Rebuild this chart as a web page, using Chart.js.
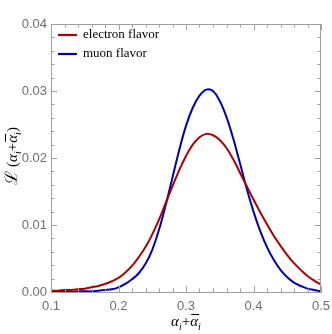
<!DOCTYPE html>
<html>
<head>
<meta charset="utf-8">
<script src="https://cdn.jsdelivr.net/npm/chart.js@4/dist/chart.umd.min.js"></script>
<style>
  html, body { margin: 0; padding: 0; background: #fff; }
  #wrap { width: 332px; height: 334px; }
</style>
</head>
<body>
<div id="wrap"><canvas id="c" width="332" height="334"></canvas></div>
<script>
// x positions (alpha_i + alphabar_i)
const xs = [0.10, 0.11, 0.12, 0.13, 0.14, 0.15, 0.16, 0.17, 0.18, 0.19,
            0.20, 0.21, 0.22, 0.23, 0.24, 0.25, 0.26, 0.27, 0.28, 0.29,
            0.30, 0.31, 0.32, 0.33, 0.34, 0.35, 0.36, 0.37, 0.38, 0.39,
            0.40, 0.41, 0.42, 0.43, 0.44, 0.45, 0.46, 0.47, 0.48, 0.49, 0.50];

const electron = [0.0002, 0.0002, 0.0003, 0.0003, 0.0004, 0.0005, 0.0007, 0.0009, 0.0012, 0.0016,
                  0.0021, 0.0029, 0.0039, 0.0052, 0.0067, 0.0086, 0.0108, 0.0133, 0.0158, 0.0182,
                  0.0203, 0.0220, 0.0231, 0.0236, 0.0234, 0.0227, 0.0215, 0.0198, 0.0178, 0.0158,
                  0.0138, 0.0119, 0.0101, 0.0084, 0.0069, 0.0055, 0.0043, 0.0033, 0.0024, 0.0017, 0.0011];
const muon = [0.0000, 0.0000, 0.0000, 0.0000, 0.0001, 0.0001, 0.0001, 0.0002, 0.0003, 0.0004,
              0.0007, 0.0012, 0.0019, 0.0028, 0.0042, 0.0063, 0.0093, 0.0130, 0.0171, 0.0212,
              0.0248, 0.0275, 0.0293, 0.0302, 0.0300, 0.0285, 0.0261, 0.0229, 0.0192, 0.0154,
              0.0120, 0.0091, 0.0067, 0.0048, 0.0033, 0.0022, 0.0014, 0.0009, 0.0005, 0.0003, 0.0001];

const seriesLabels = ['electron flavor', 'muon flavor'];
const seriesColors = ['#aa0000', '#0000b4'];

const xTicks = [0.1, 0.2, 0.3, 0.4, 0.5];
const yTicks = [0.00, 0.01, 0.02, 0.03, 0.04];

const frameColor = '#a0a0a0';
const labelColor = '#6e6e6e';
const serif = '"Liberation Serif", "Times New Roman", serif';

function pts(ys) {
    return xs.map((x, i) => ({ x, y: ys[i] }));
}

// draw a run of text pieces starting at x, returns total width
function drawRuns(ctx, parts, x, y, measureOnly) {
    let w = 0;
    parts.forEach(p => {
        ctx.font = p.f;
        const pw = ctx.measureText(p.t).width;
        if (!measureOnly) {
            ctx.fillText(p.t, x + w, y + (p.dy || 0));
            if (p.bar) {
                ctx.beginPath();
                ctx.moveTo(x + w + 1, y - 11.5);
                ctx.lineTo(x + w + pw + 1, y - 11.5);
                ctx.stroke();
            }
        }
        w += pw + (p.gap || 0);
    });
    return w;
}

const exprParts = [
    { t: 'α', f: 'italic 15px ' + serif },
    { t: 'i', f: 'italic 10px ' + serif, dy: 4 },
    { t: '+', f: '15px ' + serif },
    { t: 'α', f: 'italic 15px ' + serif, bar: true },
    { t: 'i', f: 'italic 10px ' + serif, dy: 4 }
];

// Frame ticks pointing inward on all four sides, plus top/right frame lines
const frameTicks = {
    id: 'frameTicks',
    afterDraw(chart) {
        const { ctx, chartArea: a, scales } = chart;
        ctx.save();
        ctx.strokeStyle = frameColor;
        ctx.lineWidth = 1;
        ctx.beginPath();
        ctx.moveTo(a.left, a.top + 0.5);
        ctx.lineTo(a.right, a.top + 0.5);
        ctx.moveTo(a.right - 0.5, a.top);
        ctx.lineTo(a.right - 0.5, a.bottom);
        // x ticks every 0.02, major every 0.1
        for (let k = 0; k <= 20; k++) {
            const v = 0.1 + k * 0.02;
            const px = Math.round(scales.x.getPixelForValue(v)) + 0.5;
            const len = (k % 5 === 0) ? 6 : 3.5;
            ctx.moveTo(px, a.bottom);
            ctx.lineTo(px, a.bottom - len);
            ctx.moveTo(px, a.top);
            ctx.lineTo(px, a.top + len);
        }
        // y ticks every 0.002, major every 0.01
        for (let k = 0; k <= 20; k++) {
            const v = k * 0.002;
            const py = Math.round(scales.y.getPixelForValue(v)) + 0.5;
            const len = (k % 5 === 0) ? 6 : 3.5;
            ctx.moveTo(a.left, py);
            ctx.lineTo(a.left + len, py);
            ctx.moveTo(a.right, py);
            ctx.lineTo(a.right - len, py);
        }
        ctx.stroke();

        // legend, top-left inside the frame
        ctx.font = '13px ' + serif;
        ctx.textBaseline = 'middle';
        ctx.textAlign = 'left';
        chart.data.datasets.forEach((ds, i) => {
            const y = a.top + 11 + i * 19;
            ctx.strokeStyle = ds.borderColor;
            ctx.lineWidth = 2.2;
            ctx.beginPath();
            ctx.moveTo(a.left + 7, y);
            ctx.lineTo(a.left + 26, y);
            ctx.stroke();
            ctx.fillStyle = '#000';
            ctx.fillText(ds.label, a.left + 32, y);
        });

        ctx.fillStyle = '#000';
        ctx.strokeStyle = '#000';
        ctx.lineWidth = 1;
        ctx.textAlign = 'left';
        ctx.textBaseline = 'alphabetic';

        // x axis title
        const ew = drawRuns(ctx, exprParts, 0, 0, true);
        drawRuns(ctx, exprParts, (a.left + a.right) / 2 - ew / 2, 326);

        // y axis title, rotated
        const yParts = [
            { t: 'ℒ', f: '17px ' + serif, gap: 4 },
            { t: '(', f: '15px ' + serif }
        ].concat(exprParts).concat([{ t: ')', f: '15px ' + serif }]);
        const yw = drawRuns(ctx, yParts, 0, 0, true);
        ctx.save();
        ctx.translate(17, 156);
        ctx.rotate(-Math.PI / 2);
        drawRuns(ctx, yParts, -yw / 2, 0);
        ctx.restore();

        ctx.restore();
    }
};

new Chart(document.getElementById('c'), {
    type: 'line',
    data: {
        datasets: [
            { label: seriesLabels[0], data: pts(electron), borderColor: seriesColors[0] },
            { label: seriesLabels[1], data: pts(muon), borderColor: seriesColors[1] }
        ].map(d => Object.assign(d, {
            borderWidth: 2,
            pointRadius: 0,
            tension: 0.4,
            fill: false
        }))
    },
    options: {
        responsive: false,
        animation: false,
        devicePixelRatio: 1,
        layout: { padding: { top: 24, right: 11, left: 0, bottom: 0 } },
        plugins: {
            legend: { display: false },
            tooltip: { enabled: false }
        },
        scales: {
            x: {
                type: 'linear',
                min: 0.1,
                max: 0.5,
                afterBuildTicks: s => { s.ticks = xTicks.map(v => ({ value: v })); },
                afterFit: s => { s.height = 42; s.paddingRight = 0; },
                ticks: {
                    color: labelColor,
                    padding: 7,
                    font: { family: '"Liberation Sans", Arial, sans-serif', size: 13 },
                    callback: v => v.toFixed(1),
                    maxRotation: 0
                },
                grid: { display: false, drawTicks: false },
                border: { display: true, color: frameColor, width: 1 }
            },
            y: {
                min: 0,
                max: 0.04,
                afterBuildTicks: s => { s.ticks = yTicks.map(v => ({ value: v })); },
                afterFit: s => { s.width = 51; },
                ticks: {
                    color: labelColor,
                    padding: 4,
                    font: { family: '"Liberation Sans", Arial, sans-serif', size: 13 },
                    callback: v => v.toFixed(2)
                },
                grid: { display: false, drawTicks: false },
                border: { display: true, color: frameColor, width: 1 }
            }
        }
    },
    plugins: [frameTicks]
});
</script>
</body>
</html>
